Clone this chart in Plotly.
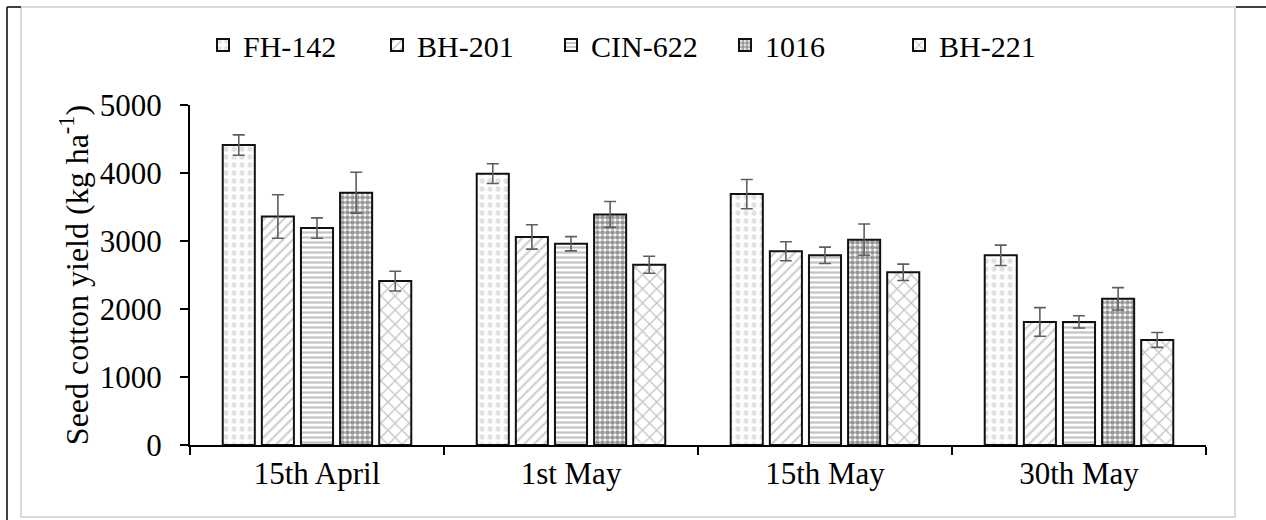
import plotly.graph_objects as go

categories = ["15th April", "1st May", "15th May", "30th May"]
varieties = ["FH-142", "BH-201", "CIN-622", "1016", "BH-221"]

fh142 = [4410, 3990, 3690, 2790]
bh201 = [3360, 3060, 2850, 1810]
cin622 = [3190, 2960, 2790, 1810]
v1016 = [3710, 3390, 3020, 2150]
bh221 = [2410, 2650, 2540, 1545]

fh142_err = [150, 145, 215, 150]
bh201_err = [320, 180, 140, 210]
cin622_err = [150, 105, 120, 90]
v1016_err = [300, 190, 230, 165]
bh221_err = [145, 125, 120, 110]

values = [fh142, bh201, cin622, v1016, bh221]
errors = [fh142_err, bh201_err, cin622_err, v1016_err, bh221_err]

patterns = [
    dict(shape=".", fgcolor="#c4c4c4", size=8, solidity=0.35),
    dict(shape="/", fgcolor="#9a9a9a", size=7, solidity=0.3),
    dict(shape="-", fgcolor="#888888", size=5, solidity=0.45),
    dict(shape=".", fgcolor="#2e2e2e", size=5, solidity=0.7),
    dict(shape="x", fgcolor="#8c8c8c", size=10, solidity=0.25),
]

FONT = "Times New Roman, Liberation Serif, serif"

fig = go.Figure()
for name, vals, errs, pat in zip(varieties, values, errors, patterns):
    fig.add_trace(go.Bar(
        name=name,
        x=categories,
        y=vals,
        marker=dict(color="white", line=dict(color="#111111", width=2), pattern=pat),
        error_y=dict(type="data", array=errs, visible=True, color="#5f5f5f", thickness=1.6, width=6),
    ))

L, R, T, B = 190, 60, 105, 75
PW, PH = 1266 - L - R, 520 - T - B

def px(x):
    return (x - L) / PW

def py(y):
    return (520 - B - y) / PH

shapes = [
    dict(type="rect", xref="paper", yref="paper", x0=px(21), x1=px(1235), y0=py(517), y1=py(7),
         line=dict(color="#d9d9d9", width=2), layer="below"),
    dict(type="line", xref="paper", yref="paper", x0=px(7), x1=px(7), y0=py(7), y1=py(521),
         line=dict(color="black", width=1.5)),
    dict(type="line", xref="paper", yref="paper", x0=px(7), x1=px(21), y0=py(7), y1=py(7),
         line=dict(color="black", width=1.5)),
    dict(type="line", xref="paper", yref="paper", x0=px(1236), x1=px(1267), y0=py(7), y1=py(7),
         line=dict(color="black", width=1.5)),
]

fig.update_layout(
    width=1266, height=520,
    margin=dict(l=L, r=R, t=T, b=B),
    paper_bgcolor="white", plot_bgcolor="white",
    font=dict(family=FONT, size=30, color="black"),
    barmode="group", bargap=0.23, bargroupgap=0.18,
    showlegend=True,
    legend=dict(orientation="h", x=px(203), xanchor="left", y=py(45), yanchor="middle",
                font=dict(size=30), entrywidth=129, itemwidth=30, traceorder="normal"),
    shapes=shapes,
    xaxis=dict(showline=True, linecolor="black", linewidth=2, ticks="outside", ticklen=8,
               tickwidth=2, tickcolor="black", tickson="boundaries", showgrid=False,
               tickfont=dict(size=31)),
    yaxis=dict(range=[0, 5000], dtick=1000, showline=True, linecolor="black", linewidth=2,
               ticks="outside", ticklen=8, tickwidth=2, tickcolor="black", showgrid=False,
               zeroline=False, tickfont=dict(size=31), ticklabelstandoff=12,
               title=dict(text="Seed cotton yield (kg ha<sup>-1</sup>)", font=dict(size=32), standoff=2)),
)

fig.write_html("out.html", config={"displayModeBar": False},
               post_script="document.body.style.margin='0';document.body.style.padding='0';")
